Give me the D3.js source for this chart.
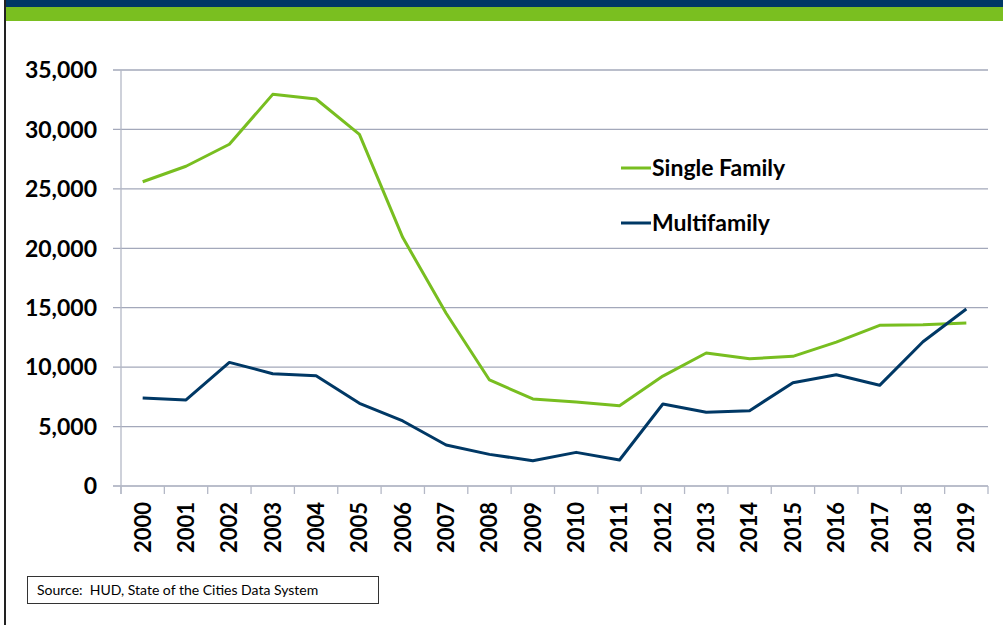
<!DOCTYPE html>
<html>
<head>
<meta charset="utf-8">
<script src="https://cdn.jsdelivr.net/npm/d3@7"></script>
<style>
  body { margin: 0; background: #fff; }
  svg { display: block; font-family: Lato, "Open Sans", sans-serif; }
</style>
</head>
<body>
<svg id="chart" width="1003" height="625"></svg>
<script>
// dati
var anni = ["2000","2001","2002","2003","2004","2005","2006","2007","2008","2009",
            "2010","2011","2012","2013","2014","2015","2016","2017","2018","2019"];
var singleFamily = [25600, 26900, 28750, 32950, 32560, 29590, 20900, 14530, 8920, 7320,
                    7070, 6760, 9250, 11190, 10710, 10910, 12110, 13520, 13570, 13710];
var multifamily = [7400, 7240, 10400, 9450, 9280, 6960, 5470, 3450, 2660, 2130,
                   2830, 2190, 6900, 6200, 6340, 8690, 9360, 8470, 12140, 14890];
var yTicks = [0, 5000, 10000, 15000, 20000, 25000, 30000, 35000];
var serie = [
  { nome: "Single Family", valori: singleFamily, colore: "#78BE20" },
  { nome: "Multifamily", valori: multifamily, colore: "#003865" }
];

var svg = d3.select("#chart");
var margin = { top: 70, left: 121, right: 15, bottom: 139 };
var width = 988 - margin.left,
    height = 486 - margin.top;

// bande in alto e bordo sinistro
svg.append("rect").attr("x", 5).attr("y", 0).attr("width", 998).attr("height", 7).attr("fill", "#003865");
svg.append("rect").attr("x", 5).attr("y", 7).attr("width", 998).attr("height", 14).attr("fill", "#7ABF20");
svg.append("line").attr("x1", 5).attr("x2", 5).attr("y1", 0).attr("y2", 625)
  .attr("stroke", "#222").attr("stroke-width", 2);

var g = svg.append("g").attr("transform", "translate(" + margin.left + "," + margin.top + ")");

var x = d3.scaleBand().domain(anni).range([0, width]);
var y = d3.scaleLinear().domain([0, 35000]).range([height, 0]);

// griglia orizzontale
g.selectAll(".grid").data(yTicks).enter().append("line")
  .attr("x1", -8).attr("x2", width)
  .attr("y1", function(d) { return y(d); }).attr("y2", function(d) { return y(d); })
  .attr("stroke", "#A3A8BA").attr("stroke-width", 1.3);

// asse y (linea)
g.append("line").attr("x1", 0).attr("x2", 0).attr("y1", 0).attr("y2", height + 8)
  .attr("stroke", "#B4B8C6").attr("stroke-width", 1.3);

// etichette asse y
g.selectAll(".ylab").data(yTicks).enter().append("text")
  .attr("x", -24).attr("y", function(d) { return y(d); })
  .attr("dy", "0.36em")
  .attr("text-anchor", "end")
  .style("font-size", "23px").style("font-weight", "bold").attr("fill", "#000")
  .text(function(d) { return d3.format(",")(d); });

// tick asse x
var xTickPos = anni.map(function(d) { return x(d); }).concat([width]);
g.selectAll(".xtick").data(xTickPos).enter().append("line")
  .attr("x1", function(d) { return d; }).attr("x2", function(d) { return d; })
  .attr("y1", height).attr("y2", height + 8)
  .attr("stroke", "#B4B8C6").attr("stroke-width", 1.3);

// etichette asse x ruotate
g.selectAll(".xlab").data(anni).enter().append("text")
  .attr("transform", function(d) {
    return "translate(" + (x(d) + x.bandwidth() / 2) + "," + (height + 16) + ") rotate(-90)";
  })
  .attr("dy", "0.36em")
  .attr("text-anchor", "end")
  .style("font-size", "22px").style("font-weight", "bold").attr("fill", "#000")
  .text(function(d) { return d; });

// linee
var line = d3.line()
  .x(function(d, i) { return x(anni[i]) + x.bandwidth() / 2; })
  .y(function(d) { return y(d); });

serie.forEach(function(s) {
  g.append("path").datum(s.valori)
    .attr("fill", "none").attr("stroke", s.colore).attr("stroke-width", 3)
    .attr("stroke-linejoin", "round")
    .attr("d", line);
});

// legenda
serie.forEach(function(s, i) {
  var ly = 168 + i * 55;
  svg.append("line").attr("x1", 621).attr("x2", 651).attr("y1", ly).attr("y2", ly)
    .attr("stroke", s.colore).attr("stroke-width", 3);
  svg.append("text").attr("x", 652).attr("y", ly).attr("dy", "0.36em")
    .style("font-size", "23px").style("font-weight", "bold").attr("fill", "#000")
    .text(s.nome);
});

// fonte
svg.append("rect").attr("x", 27.5).attr("y", 576.5).attr("width", 351).attr("height", 27)
  .attr("fill", "#fff").attr("stroke", "#333").attr("stroke-width", 1);
svg.append("text").attr("x", 37).attr("y", 590).attr("dy", "0.36em")
  .style("font-size", "14px").style("white-space", "pre").attr("fill", "#000")
  .text("Source:  HUD, State of the Cities Data System");
</script>
</body>
</html>
